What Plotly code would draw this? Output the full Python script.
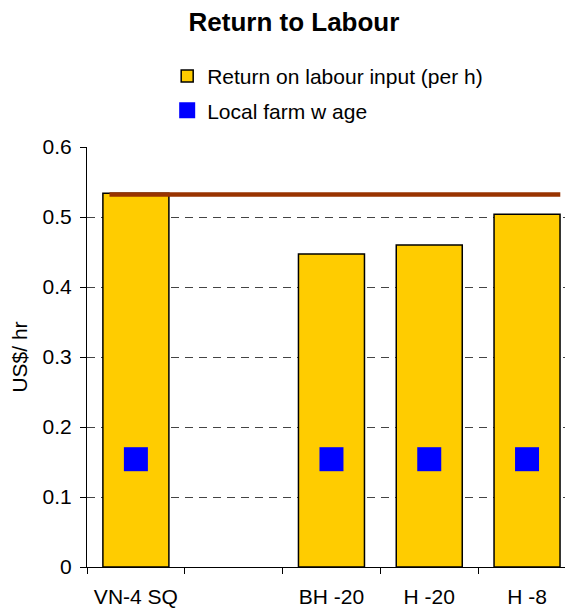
import plotly.graph_objects as go

# categories (second slot is an empty gap in the original chart)
categories = ["VN-4 SQ", " ", "BH -20", "H -20", "H -8"]
return_per_h = [0.534, None, 0.447, 0.460, 0.504]
farm_wage = [0.154, None, 0.154, 0.154, 0.154]
ref_line_x = [-0.27, 4.34]
ref_line_y = [0.532, 0.532]

font = "Liberation Sans, Arial, sans-serif"
x_range = [-0.5, 4.47]

fig = go.Figure()
fig.add_trace(go.Bar(
    x=categories, y=return_per_h, name="Return on labour input (per h)",
    marker=dict(color="#FFCC00", line=dict(color="black", width=1.5)),
    width=0.675, legendgroup="a",
))
fig.add_trace(go.Scatter(
    x=categories, y=farm_wage, mode="markers", name="Local farm w age",
    marker=dict(symbol="square", size=24, color="#0000FF"),
    legendgroup="b",
))
fig.add_trace(go.Scatter(
    x=ref_line_x, y=ref_line_y, mode="lines", xaxis="x2",
    line=dict(color="#993300", width=4.5), showlegend=False,
))

# the page body adds an 8px offset, so margins are shifted to compensate
fig.update_layout(
    width=573, height=608,
    margin=dict(l=79, r=8, t=139, b=49),
    plot_bgcolor="white", paper_bgcolor="white",
    font=dict(family=font, size=21, color="black"),
    title=dict(text="<b>Return to Labour</b>", x=0.499, xanchor="center",
               xref="container", y=0.977, yanchor="middle",
               font=dict(size=26)),
    legend=dict(x=0.165, y=1.217, xanchor="left", yanchor="top",
                tracegroupgap=4, font=dict(size=21),
                itemwidth=30, bgcolor="rgba(0,0,0,0)"),
    xaxis=dict(
        type="category", range=x_range, tickson="boundaries",
        ticks="outside", ticklen=6, tickcolor="black",
        showline=True, linecolor="black", linewidth=1,
        showgrid=False, ticklabelstandoff=11,
    ),
    xaxis2=dict(overlaying="x", range=x_range, visible=False),
    yaxis=dict(
        range=[0, 0.6], dtick=0.1,
        ticks="outside", ticklen=6, tickcolor="black",
        showline=True, linecolor="black", linewidth=1,
        showgrid=True, gridcolor="#444444", griddash="8px,6px", gridwidth=1,
        zeroline=False, ticklabelstandoff=4,
        title=dict(text="US$/ hr", font=dict(size=21), standoff=9),
    ),
)

fig.write_html("out.html")
